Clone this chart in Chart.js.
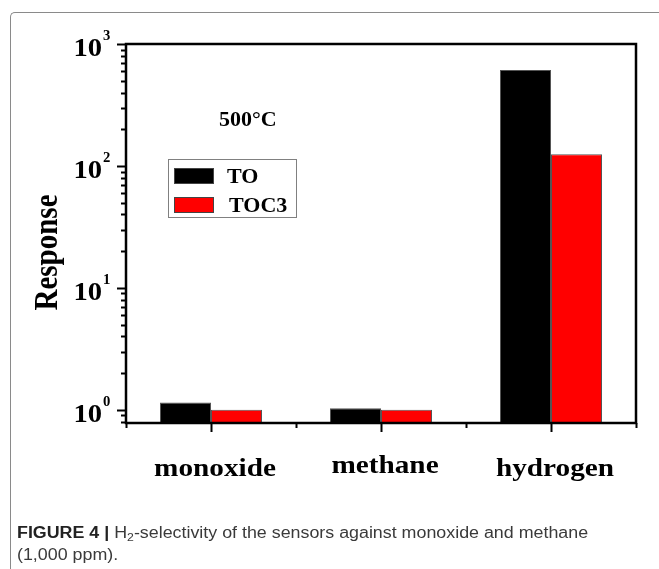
<!DOCTYPE html>
<html>
<head>
<meta charset="utf-8">
<script src="https://cdn.jsdelivr.net/npm/chart.js@4/dist/chart.umd.min.js"></script>
<style>
  html, body { margin: 0; padding: 0; background: #fff; }
  body { width: 659px; height: 569px; position: relative; overflow: hidden; }
  #frame { position: absolute; left: 10px; top: 12px; width: 700px; height: 600px;
           border-top: 1.5px solid #8a8a8a; border-left: 1.5px solid #8a8a8a; border-top-left-radius: 5px; }
  #c { position: absolute; left: 0; top: 0; }
  #caption { position: absolute; left: 17px; top: 522px; font-family: "Liberation Sans", Arial, sans-serif;
             font-size: 16px; line-height: 22px; color: #3a3a3a; white-space: nowrap;
             transform: scaleX(1.115); transform-origin: 0 0; }
  #caption b { font-weight: bold; color: #222; }
  #caption sub { font-size: 11px; vertical-align: -3px; line-height: 0; }
</style>
</head>
<body>
<div id="frame"></div>
<canvas id="c" width="659" height="569"></canvas>
<div id="caption"><b>FIGURE 4 |</b> H<sub>2</sub>-selectivity of the sensors against monoxide and methane<br>(1,000 ppm).</div>
<script>
// ---- data ----
const categories = ['monoxide', 'methane', 'hydrogen'];
const seriesTO = [1.15, 1.03, 612];
const seriesTOC3 = [1.0, 1.0, 125];
const seriesNames = ['TO', 'TOC3'];
const seriesColors = ['#000000', '#ff0000'];
const yTickExponents = [0, 1, 2, 3];
const yTickBase = '10';
const annotationText = '500°C';
const yAxisTitle = 'Response';

const SERIF = '"Liberation Serif", "Times New Roman", serif';

const drawPlugin = {
  id: 'drawPlugin',
  afterDatasetsDraw(chart) {
    const { ctx, chartArea: a, scales: { x, y } } = chart;
    ctx.save();
    // frame
    ctx.strokeStyle = '#000';
    ctx.lineWidth = 2.5;
    ctx.strokeRect(a.left, a.top, a.right - a.left, a.bottom - a.top);

    // y ticks (major & minor)
    ctx.lineWidth = 2;
    for (let e = -1; e <= 3; e++) {
      for (let m = 1; m <= 9; m++) {
        const v = m * Math.pow(10, e);
        if (v < y.min - 1e-9 || v > y.max + 1e-9) continue;
        const py = Math.round(y.getPixelForValue(v)) + 0.5;
        const len = m === 1 ? 9 : 5;
        ctx.beginPath();
        ctx.moveTo(a.left, py);
        ctx.lineTo(a.left - len, py);
        ctx.stroke();
      }
    }
    // x ticks
    for (let i = 0; i <= categories.length; i++) {
      const px = Math.round(x.getPixelForValue(i - 0.5)) + 0.5;
      ctx.beginPath(); ctx.moveTo(px, a.bottom); ctx.lineTo(px, a.bottom + 5); ctx.stroke();
    }
    for (let i = 0; i < categories.length; i++) {
      const px = Math.round(x.getPixelForValue(i)) + 0.5;
      ctx.beginPath(); ctx.moveTo(px, a.bottom); ctx.lineTo(px, a.bottom + 9); ctx.stroke();
    }

    ctx.fillStyle = '#000';
    // y tick labels 10^n
    yTickExponents.forEach(e => {
      const py = y.getPixelForValue(Math.pow(10, e));
      ctx.save();
      ctx.translate(a.left - 24, py + 12);
      ctx.scale(1.1, 1);
      ctx.font = 'bold 26px ' + SERIF;
      ctx.textAlign = 'right';
      ctx.textBaseline = 'alphabetic';
      ctx.fillText(yTickBase, 0, 0);
      ctx.restore();
      ctx.save();
      ctx.translate(a.left - 23, py - 4);
      ctx.scale(1.05, 1);
      ctx.font = 'bold 14px ' + SERIF;
      ctx.textAlign = 'left';
      ctx.fillText(String(e), 0, 0);
      ctx.restore();
    });

    // x category labels
    const yOff = [0, -3, 0];
    categories.forEach((c, i) => {
      const px = x.getPixelForValue(i) + 4;
      ctx.save();
      ctx.translate(px, a.bottom + 53 + yOff[i]);
      ctx.scale(1.17, 1);
      ctx.font = 'bold 25px ' + SERIF;
      ctx.textAlign = 'center';
      ctx.textBaseline = 'alphabetic';
      ctx.fillText(c, 0, 0);
      ctx.restore();
    });

    // y axis title
    ctx.save();
    ctx.translate(a.left - 69, (a.top + a.bottom) / 2 + 19);
    ctx.rotate(-Math.PI / 2);
    ctx.scale(1, 1.13);
    ctx.font = 'bold 29px ' + SERIF;
    ctx.textAlign = 'center';
    ctx.textBaseline = 'alphabetic';
    ctx.fillText(yAxisTitle, 0, 0);
    ctx.restore();

    // annotation
    ctx.font = 'bold 22px ' + SERIF;
    ctx.textAlign = 'left';
    ctx.fillText(annotationText, a.left + 93, a.top + 82);

    // legend
    const lx = a.left + 42, ly = a.top + 115;
    ctx.strokeStyle = '#808080';
    ctx.lineWidth = 1;
    ctx.strokeRect(lx + 0.5, ly + 0.5, 128, 58);
    chart.data.datasets.forEach((ds, i) => {
      const sy = ly + 9 + i * 29;
      ctx.fillStyle = ds.backgroundColor;
      ctx.fillRect(lx + 6, sy, 40, 16);
      ctx.strokeStyle = '#444';
      ctx.strokeRect(lx + 6.5, sy + 0.5, 39, 15);
      ctx.fillStyle = '#000';
      ctx.font = 'bold 22px ' + SERIF;
      ctx.fillText(ds.label, lx + 59 + i * 2, sy + 15);
    });
    ctx.restore();
  }
};

new Chart(document.getElementById('c'), {
  type: 'bar',
  data: {
    labels: categories,
    datasets: [
      { label: seriesNames[0], data: seriesTO, backgroundColor: seriesColors[0], borderColor: '#555', borderWidth: 1,
        categoryPercentage: 0.6, barPercentage: 1.0 },
      { label: seriesNames[1], data: seriesTOC3, backgroundColor: seriesColors[1], borderColor: '#555', borderWidth: 1,
        categoryPercentage: 0.6, barPercentage: 1.0 }
    ]
  },
  options: {
    responsive: false,
    animation: false,
    devicePixelRatio: 1,
    layout: { padding: { left: 126, top: 44, right: 23, bottom: 146 } },
    plugins: { legend: { display: false }, tooltip: { enabled: false } },
    scales: {
      x: { display: false, offset: true },
      y: { type: 'logarithmic', display: false, min: 0.78, max: 1000 }
    }
  },
  plugins: [drawPlugin]
});
</script>
</body>
</html>
